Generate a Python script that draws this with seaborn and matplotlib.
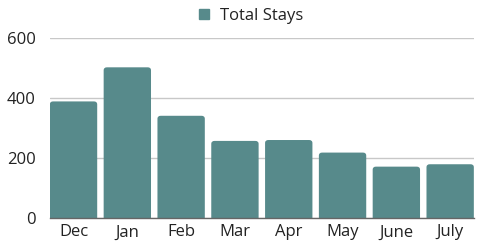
import matplotlib
matplotlib.use("Agg")
import matplotlib.pyplot as plt
import seaborn as sns
import pandas as pd
from matplotlib.lines import Line2D
from matplotlib.patches import FancyBboxPatch

months = ["Dec", "Jan", "Feb", "Mar", "Apr", "May", "June", "July"]
total_stays = [388, 502, 340, 256, 259, 217, 170, 178]
yticks = [0, 200, 400, 600]

df = pd.DataFrame({"Month": months, "Total Stays": total_stays})

sns.set_style("white")
plt.rcParams["font.family"] = ["Open Sans", "DejaVu Sans"]

bar_color = "#578a8b"
text_color = "#222222"
fig = plt.figure(figsize=(4.84, 2.5), dpi=100)
ax = fig.add_axes([0.103, 0.13, 0.876, 0.718])
sns.barplot(data=df, x="Month", y="Total Stays", color=bar_color,
            width=0.88, saturation=1, ax=ax, zorder=3)

ax.set_ylim(0, 600)
ax.set_xlim(-0.44, len(months) - 0.56)

# round top corners of bars (replace seaborn's rectangles with rounded boxes)
r_x = 0.06
aspect = 10.0 / r_x  # ~3px rounding in both directions
for p in list(ax.patches):
    x0, w, h = p.get_x(), p.get_width(), p.get_height()
    fb = FancyBboxPatch((x0 + r_x, -20), w - 2 * r_x, h + 20 - r_x * aspect,
                        boxstyle=f"round,pad={r_x}", mutation_aspect=aspect,
                        facecolor=bar_color, edgecolor="none", zorder=3)
    ax.add_patch(fb)
    p.set_visible(False)

ax.set_yticks(yticks)
ax.set_yticklabels([str(v) for v in yticks], fontsize=12, color=text_color)
ax.tick_params(axis="x", labelsize=12, colors=text_color, length=0, pad=5)
ax.tick_params(axis="y", length=0, pad=10)
ax.set_xlabel("")
ax.set_ylabel("")
for s in ["top", "right", "left"]:
    ax.spines[s].set_visible(False)
ax.spines["bottom"].set_color("#666666")
ax.spines["bottom"].set_linewidth(1.0)
ax.spines["bottom"].set_zorder(4)
ax.yaxis.grid(True, color="#c8c8c8", linewidth=1.0, zorder=0)
ax.set_axisbelow(True)

handle = Line2D([], [], marker="s", linestyle="none", markersize=7,
                color=bar_color)
fig.legend([handle], ["Total Stays"], loc="center", bbox_to_anchor=(0.518, 0.937),
           frameon=False, fontsize=12, handlelength=0.7, handletextpad=0.6,
           labelcolor=text_color)

fig.savefig("out.png", dpi=100)
